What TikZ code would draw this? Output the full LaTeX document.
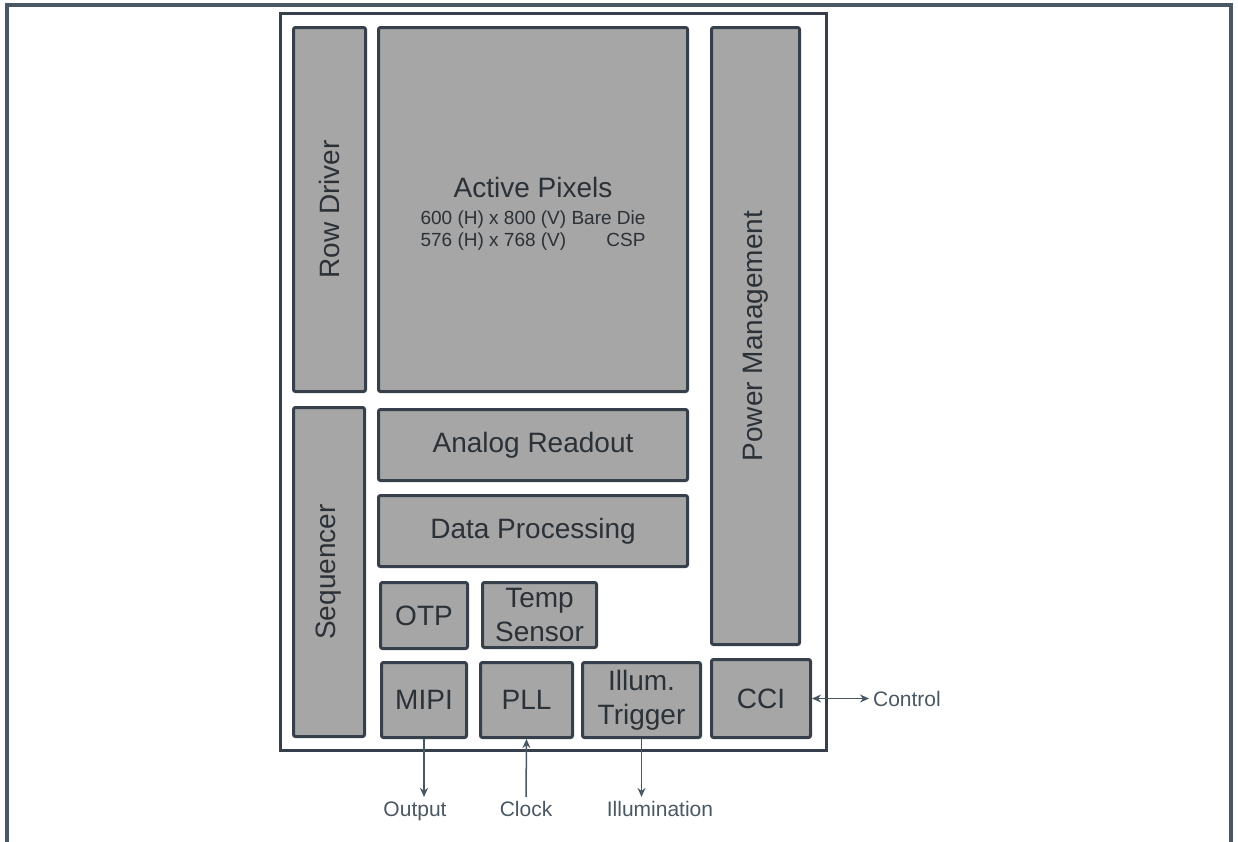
\documentclass[tikz,border=0pt]{standalone}
\usepackage{fontspec}
\setmainfont{Liberation Sans}
\usetikzlibrary{arrows.meta}
\definecolor{frame}{HTML}{4A5864}
\definecolor{edge}{HTML}{37404A}
\definecolor{blockfill}{HTML}{A6A6A6}
\definecolor{txt}{HTML}{2B3136}

\begin{document}
\begin{tikzpicture}[x=1pt,y=-1pt,>={Stealth[length=9pt,width=8pt]},
                    line width=1.5pt]
  \tikzstyle{block}=[draw=edge,fill=blockfill,line width=3pt,rounded corners=2pt,
                     text=txt,align=center,inner sep=0pt,
                     font=\fontsize{28}{34}\selectfont]
  \tikzstyle{pin}=[text=frame,font=\fontsize{21}{24}\selectfont,
                   text height=15pt,text depth=5pt]

  \useasboundingbox (0,0) rectangle (1238,841);
  \draw[frame,line width=3.5pt] (7,850) -- (7,5) -- (1231,5) -- (1231,850);
  \draw[edge,line width=3pt] (280,13) rectangle (826,750);

  \node[block,rotate=90,minimum width=364,minimum height=72] (row) at (329.5,209.5) {Row Driver};
  \node[block,minimum width=309,minimum height=364] (pix) at (533,209.5) {};
  \node[text=txt,align=center,inner sep=0pt,font=\fontsize{28}{34}\selectfont] (pixtxt) at (533,215)
    {Active Pixels\\[-7pt]
     {\fontsize{19}{22}\selectfont
      \begin{tabular}[t]{@{}l@{ }r@{}}
        600 (H) x 800 (V) & Bare Die\\
        576 (H) x 768 (V) & CSP
      \end{tabular}}};
  \node[block,rotate=90,minimum width=617,minimum height=88] (pwr) at (755.5,336) {Power Management};
  \node[block,rotate=90,minimum width=329,minimum height=71] (seq) at (329,572) {Sequencer};

  \node[block,minimum width=309,minimum height=71] (ana) at (533,445) {Analog Readout};
  \node[block,minimum width=309,minimum height=71] (dat) at (533,531) {Data Processing};

  \node[block,minimum width=87,minimum height=66]  (otp) at (424,615.5) {OTP};
  \node[block,minimum width=114,minimum height=65] (tmp) at (539.5,615) {Temp\\Sensor};

  \node[block,minimum width=85,minimum height=75]  (mipi) at (424,700) {MIPI};
  \node[block,minimum width=92,minimum height=75]  (pll) at (526.5,700) {PLL};
  \node[block,minimum width=118,minimum height=75] (ill) at (641.5,700) {Illum.\\Trigger};
  \node[block,minimum width=99,minimum height=78]  (cci) at (761,698.5) {CCI};

  \node[pin] (out) at (415,811) {Output};
  \node[pin] (clk) at (526,811) {Clock};
  \node[pin] (ilm) at (660,811) {Illumination};
  \node[pin,anchor=west] (ctl) at (869,701) {Control};

  \draw[frame,->] (mipi.south) -- (mipi.south |- out.north);
  \draw[frame,->] (clk.north) -- (pll.south);
  \draw[frame,->] (ill.south) -- (ill.south |- ilm.north);
  \draw[frame,<->] (cci.east) -- (cci.east -| ctl.west);
\end{tikzpicture}
\end{document}
